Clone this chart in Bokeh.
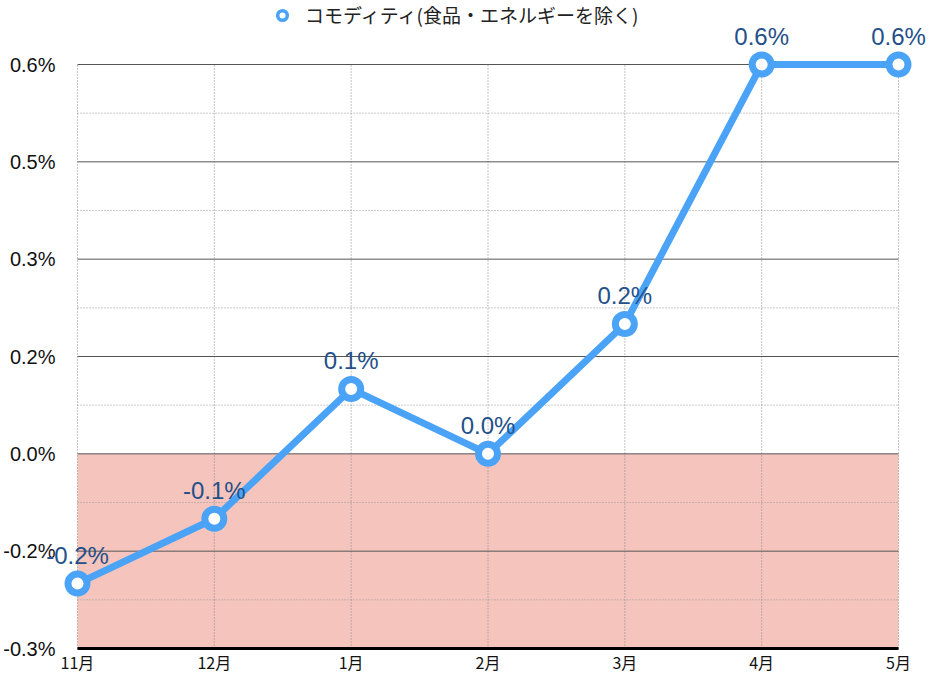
from bokeh.plotting import figure
from bokeh.models import (ColumnDataSource, FixedTicker, LabelSet, BoxAnnotation,
                          Legend, LegendItem, Range1d, LinearAxis)
from bokeh.embed import file_html
from bokeh.resources import INLINE
from bokeh.core.properties import value

months = ["11月", "12月", "1月", "2月", "3月", "4月", "5月"]
values = [-0.2, -0.1, 0.1, 0.0, 0.2, 0.6, 0.6]
value_labels = ["-0.2%", "-0.1%", "0.1%", "0.0%", "0.2%", "0.6%", "0.6%"]
series_name = "コモディティ(食品・エネルギーを除く)"
y_ticks = [-0.3, -0.15, 0.0, 0.15, 0.3, 0.45, 0.6]
y_tick_labels = ["-0.3%", "-0.2%", "0.0%", "0.2%", "0.3%", "0.5%", "0.6%"]
y_minor = [-0.225, -0.075, 0.075, 0.225, 0.375, 0.525]

x = list(range(len(months)))
src = ColumnDataSource(dict(x=x, y=values, lab=value_labels))

FONT = "Liberation Sans"
JP = "Noto Sans CJK JP"
LINE_C = "#4ba3f7"

W, H = 928, 674
# plot-area geometry (pixels within the figure)
PL, PR, PT, PB = 77, 898, 64, 648
xs = (PR - PL) / (x[-1] - x[0])
ys = (PB - PT) / (y_ticks[-1] - y_ticks[0])
x_rng = Range1d(x[0] - PL / xs, x[-1] + (W - PR) / xs)
y_rng = Range1d(y_ticks[0] - (H - PB) / ys, y_ticks[-1] + PT / ys)

p = figure(width=W, height=H, output_backend="svg", toolbar_location=None,
           x_range=x_rng, y_range=y_rng, x_axis_type=None, y_axis_type=None,
           min_border=0, min_border_left=0, min_border_right=0,
           min_border_top=0, min_border_bottom=0)
p.outline_line_color = None
p.background_fill_color = "white"
p.grid.visible = False

# negative band
p.add_layout(BoxAnnotation(left=x[0], right=x[-1], top=0, bottom=y_ticks[0],
                           fill_color="#f5c5bd", fill_alpha=1, line_color=None, level="image"))

# grid lines restricted to plot area
p.segment(x0=[x[0]] * len(y_minor), x1=[x[-1]] * len(y_minor), y0=y_minor, y1=y_minor,
          line_color="#999999", line_width=1, line_dash="1 2", level="underlay")
p.segment(x0=x, x1=x, y0=[y_ticks[0]] * len(x), y1=[y_ticks[-1]] * len(x),
          line_color="#888888", line_width=1, line_dash="1 2", level="underlay")
p.segment(x0=[x[0]] * len(y_ticks), x1=[x[-1]] * len(y_ticks), y0=y_ticks, y1=y_ticks,
          line_color="#555555", line_width=1, level="underlay")

# axes
xax = LinearAxis(fixed_location=y_ticks[0], bounds=(x[0], x[-1]))
xax.ticker = FixedTicker(ticks=x)
xax.major_label_overrides = {i: m for i, m in enumerate(months)}
xax.axis_line_color = "black"
xax.axis_line_width = 3
xax.major_tick_line_color = None
xax.minor_tick_line_color = None
xax.major_tick_out = 0
xax.major_tick_in = 0
xax.major_label_text_font = JP
xax.major_label_text_font_size = "16px"
xax.major_label_text_color = "#111111"
xax.major_label_standoff = 1
p.add_layout(xax, "below")

yax = LinearAxis(fixed_location=x[0])
yax.ticker = FixedTicker(ticks=y_ticks)
yax.major_label_overrides = {t: l for t, l in zip(y_ticks, y_tick_labels)}
yax.axis_line_color = None
yax.major_tick_line_color = None
yax.minor_tick_line_color = None
yax.major_tick_out = 0
yax.major_tick_in = 0
yax.major_label_text_font = FONT
yax.major_label_text_font_size = "20px"
yax.major_label_text_color = "#111111"
yax.major_label_standoff = 22
p.add_layout(yax, "left")

# legend marker renderer, drawn first so the main markers cover it
leg_r = p.scatter("x", "y", source=src, size=8, fill_color="white",
                  line_color=LINE_C, line_width=3.5)

# series
p.line("x", "y", source=src, line_color=LINE_C, line_width=7)
p.scatter("x", "y", source=src, size=19, fill_color="white", line_color=LINE_C, line_width=7)

labels = LabelSet(x="x", y="y", text="lab", source=src, text_align="center",
                  text_baseline="alphabetic", y_offset=20, text_font=value(FONT),
                  text_font_size="24px", text_color="#24508a")
p.add_layout(labels)

legend = Legend(items=[LegendItem(label=series_name, renderers=[leg_r])],
                location=(270, H - 28), orientation="horizontal",
                label_text_font=JP, label_text_font_size="19px", label_text_color="#222222",
                border_line_color=None, background_fill_alpha=0,
                glyph_width=24, glyph_height=24, label_height=24,
                margin=0, padding=0, label_standoff=11)
p.add_layout(legend)

open("out.html", "w").write(file_html(p, INLINE))
